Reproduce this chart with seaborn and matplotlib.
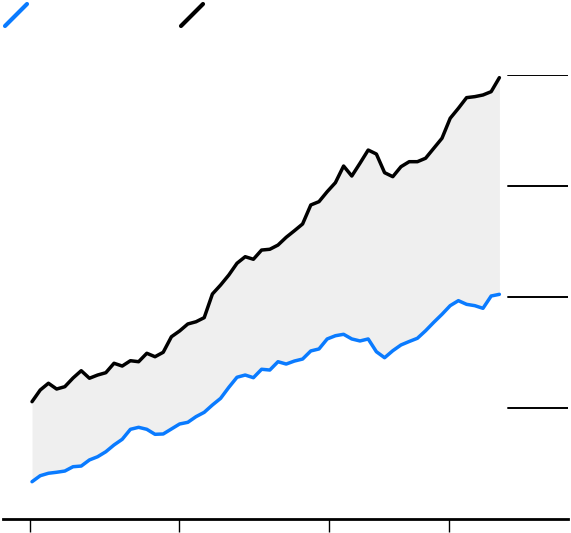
import numpy as np
import pandas as pd
import matplotlib
matplotlib.use("Agg")
import matplotlib.pyplot as plt
from matplotlib.lines import Line2D
import seaborn as sns

### values

upper = [105.7, 116.2, 122.3, 117.1, 119.2, 127.0, 133.6, 126.8, 129.7, 131.8,
         140.3, 137.8, 142.6, 141.7, 149.3, 146.2, 150.2, 164.2, 169.4, 175.7,
         177.7, 181.4, 202.7, 210.8, 219.8, 230.4, 236.3, 234.0, 242.3, 243.0,
         246.8, 253.8, 259.7, 265.8, 282.9, 285.9, 294.9, 303.0, 318.0, 309.0,
         320.5, 332.4, 328.8, 312.0, 308.4, 317.4, 321.9, 321.9, 325.0, 334.0,
         343.0, 361.0, 370.0, 379.6, 380.5, 382.0, 385.0, 397.6]

lower = [33.6, 39.0, 41.2, 42.1, 43.2, 47.1, 47.7, 53.2, 56.1, 60.6,
         66.7, 71.8, 80.8, 82.6, 80.8, 76.3, 76.6, 81.1, 85.6, 87.1,
         92.2, 96.1, 102.7, 108.7, 118.6, 127.7, 129.7, 127.3, 134.9, 134.2,
         141.7, 139.6, 142.3, 144.1, 151.4, 153.2, 162.2, 165.1, 166.4, 162.2,
         160.4, 162.2, 150.7, 145.3, 151.6, 156.8, 159.9, 162.8, 169.6, 177.2,
         184.4, 192.2, 196.7, 193.4, 192.2, 189.8, 200.9, 202.4]

period = list(range(len(upper)))
tick_pos = [-0.24, 17.93, 36.22, 50.85]
grid_vals = [100, 200, 300, 400]

df = pd.DataFrame({'period': period, 'upper': upper, 'lower': lower})

blue = '#0a7bff'

sns.set_style('white')
fig = plt.figure(figsize=(5.71, 5.33), dpi=100)
ax = fig.add_axes([3/571, 14/533, 565/571, 444/533])

ax.fill_between(df['period'], df['lower'], df['upper'], color='#efefef', lw=0)
sns.lineplot(data=df, x='period', y='upper', color='black', lw=2.5, ax=ax,
             solid_capstyle='round', solid_joinstyle='round', clip_on=False)
sns.lineplot(data=df, x='period', y='lower', color=blue, lw=2.5, ax=ax,
             solid_capstyle='round', solid_joinstyle='round', clip_on=False)

# short gridlines on the right only
for g in grid_vals:
    ax.axhline(g, xmin=(508-3)/565, xmax=1, color='black', lw=1.4)

ax.set_xlim(-3.54, 65.37)
ax.set_ylim(0, 400)
ax.set_xticks(tick_pos)
ax.set_xticklabels([])
ax.set_yticks([])
ax.tick_params(axis='x', direction='out', length=9, width=1, color='black', bottom=True)
for s in ['top', 'right', 'left']:
    ax.spines[s].set_visible(False)
ax.spines['bottom'].set_color('black')
ax.spines['bottom'].set_linewidth(2)
ax.set_xlabel('')
ax.set_ylabel('')

# legend swatches (no labels in the original)
def swatch(x0, col):
    fig.add_artist(Line2D([x0/571, (x0+22)/571], [(533-26)/533, (533-4)/533],
                          color=col, lw=3, solid_capstyle='round',
                          transform=fig.transFigure))

swatch(5, blue)
swatch(181, 'black')

fig.savefig('out.png', dpi=100)
